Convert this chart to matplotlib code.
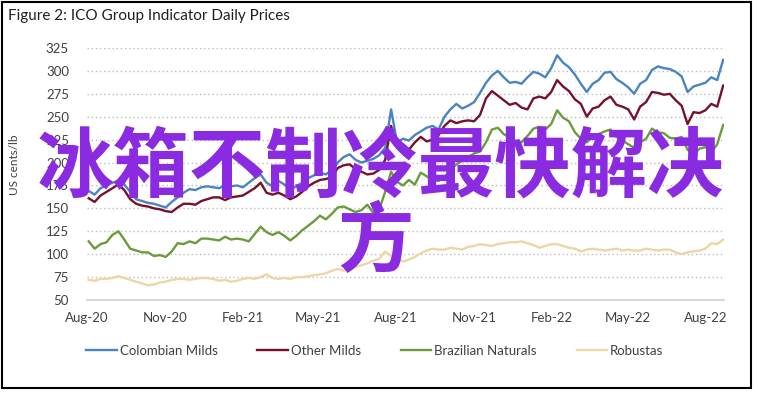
import matplotlib
matplotlib.use("Agg")
import matplotlib.pyplot as plt
import matplotlib.dates as mdates
from matplotlib.patches import Rectangle
import pandas as pd

# weekly readings, Aug 2020 - Aug 2022 (US cents/lb)
dates = pd.date_range("2020-08-03", "2022-08-22", freq="W-MON")

colombian_milds = [
    169, 165, 172, 175, 178, 180, 176, 168, 160, 158, 156, 155, 153, 151, 157, 162,
    167, 171, 170, 173, 174, 173, 172, 175, 174, 175, 173, 178, 183, 187, 178, 174,
    180, 176, 171, 174, 178, 183, 186, 189, 187, 192, 200, 206, 209, 203, 200, 202,
    204, 208, 216, 258, 222, 226, 224, 230, 234, 238, 240, 236, 250, 258, 264, 259,
    262, 266, 276, 287, 295, 300, 293, 287, 288, 286, 293, 299, 297, 293, 303, 317,
    309, 304, 296, 286, 277, 286, 290, 298, 299, 291, 287, 282, 275, 286, 290, 301,
    305, 303, 302, 299, 294, 277, 283, 285, 287, 293, 290, 312,
]
other_milds = [
    161, 157, 164, 168, 172, 176, 170, 160, 155, 153, 152, 150, 149, 147, 146, 151,
    155, 155, 154, 158, 160, 162, 162, 159, 162, 163, 164, 168, 172, 178, 167, 165,
    167, 164, 160, 163, 168, 174, 178, 181, 182, 184, 194, 197, 198, 193, 190, 187,
    188, 192, 203, 240, 216, 220, 214, 222, 228, 223, 225, 230, 240, 246, 243, 245,
    246, 245, 252, 270, 278, 273, 268, 263, 265, 260, 258, 270, 272, 270, 277, 290,
    283, 278, 269, 264, 250, 259, 261, 268, 272, 263, 261, 258, 247, 261, 266, 277,
    276, 274, 275, 268, 262, 242, 255, 254, 257, 264, 261, 284,
]
brazilian_naturals = [
    114, 106, 111, 113, 121, 125, 116, 106, 104, 102, 102, 98, 99, 97, 103, 112,
    111, 114, 112, 117, 117, 116, 115, 119, 116, 117, 116, 114, 122, 130, 124, 121,
    124, 120, 115, 120, 126, 131, 136, 142, 138, 144, 151, 152, 149, 146, 148, 154,
    145, 149, 168, 190, 179, 175, 181, 176, 189, 185, 181, 180, 184, 192, 198, 202,
    206, 210, 212, 222, 236, 238, 231, 227, 224, 222, 229, 237, 239, 236, 242, 257,
    249, 245, 233, 226, 222, 228, 231, 234, 236, 228, 224, 220, 216, 222, 226, 237,
    233, 232, 227, 226, 228, 214, 209, 215, 217, 211, 220, 241,
]
robustas = [
    72, 71, 73, 73, 74, 76, 74, 72, 70, 68, 66, 67, 69, 70, 72, 73,
    73, 72, 73, 74, 74, 73, 71, 72, 70, 71, 73, 74, 73, 75, 78, 74,
    73, 74, 73, 75, 75, 76, 77, 78, 79, 82, 84, 82, 85, 86, 88, 90,
    93, 95, 103, 98, 95, 92, 94, 97, 101, 104, 106, 105, 105, 107, 106, 105,
    108, 109, 111, 110, 109, 111, 112, 113, 113, 114, 112, 110, 107, 109, 111, 111,
    109, 107, 106, 103, 105, 106, 105, 104, 105, 106, 104, 105, 104, 104, 106, 105,
    104, 105, 105, 102, 100, 102, 103, 104, 106, 112, 111, 116,
]

series_names = ["Colombian Milds", "Other Milds", "Brazilian Naturals", "Robustas"]
series_colors = ["#4A84C0", "#76112B", "#6A9B3C", "#EDD6A4"]

tick_dates = pd.date_range("2020-08-01", "2022-08-01", freq="3MS")
y_ticks = list(range(50, 326, 25))

plt.rcParams["font.family"] = ["Lato", "DejaVu Sans"]
text_color = "#404040"

fig = plt.figure(figsize=(7.58, 3.93), dpi=100)
ax = fig.add_axes([87 / 758, 1 - 300 / 393, (724 - 87) / 758, (300 - 48) / 393])

all_series = [colombian_milds, other_milds, brazilian_naturals, robustas]
for name, vals, col in zip(series_names, all_series, series_colors):
    ax.plot(dates, vals, color=col, lw=1.7, label=name, solid_joinstyle="round")

ax.set_ylim(50, 325)
ax.set_xlim(pd.Timestamp("2020-08-01"), pd.Timestamp("2022-08-23"))
ax.set_yticks(y_ticks)
ax.set_xticks(tick_dates)
ax.xaxis.set_major_formatter(mdates.DateFormatter("%b-%y"))

# dotted grid, solid baseline
for v in y_ticks[1:]:
    ax.axhline(v, color="#BDBDBD", lw=1.0, ls=(0, (1, 2)), zorder=0)
for s in ["top", "right", "left"]:
    ax.spines[s].set_visible(False)
ax.spines["bottom"].set_color("#D0D0D0")
ax.spines["bottom"].set_linewidth(1.2)
ax.tick_params(axis="both", length=0, labelsize=9.5, colors=text_color)
ax.tick_params(axis="y", pad=13)
ax.tick_params(axis="x", pad=9)

fig.text(15 / 758, 1 - 165 / 393, "US cents/lb", rotation=90, ha="center", va="center",
         fontsize=8.5, color=text_color)

fig.text(8 / 758, 1 - 16 / 393, "Figure 2: ICO Group Indicator Daily Prices",
         ha="left", va="center", fontsize=11, color="#202020")

fig.legend(loc="center", bbox_to_anchor=(375 / 758, 1 - 351 / 393), ncol=4, frameon=False,
           fontsize=9.5, handlelength=2.3, handletextpad=0.25, columnspacing=3.0,
           labelcolor=text_color)

# frame around the whole figure
fig.patches.append(Rectangle((1.5 / 758, 1 - 388 / 393), 750 / 758, 386.5 / 393,
                             transform=fig.transFigure, fill=False, ec="black", lw=1.5))

# overlay text
cjk = ["Noto Sans CJK SC", "DejaVu Sans"]
fig.text(380 / 758, 1 - 168 / 393, "冰箱不制冷最快解决", ha="center", va="center",
         fontsize=55, color="#8A2BE2", family=cjk, weight="bold")
fig.text(375 / 758, 1 - 243 / 393, "方", ha="center", va="center",
         fontsize=55, color="#8A2BE2", family=cjk, weight="bold")

fig.savefig("out.png", dpi=100)
